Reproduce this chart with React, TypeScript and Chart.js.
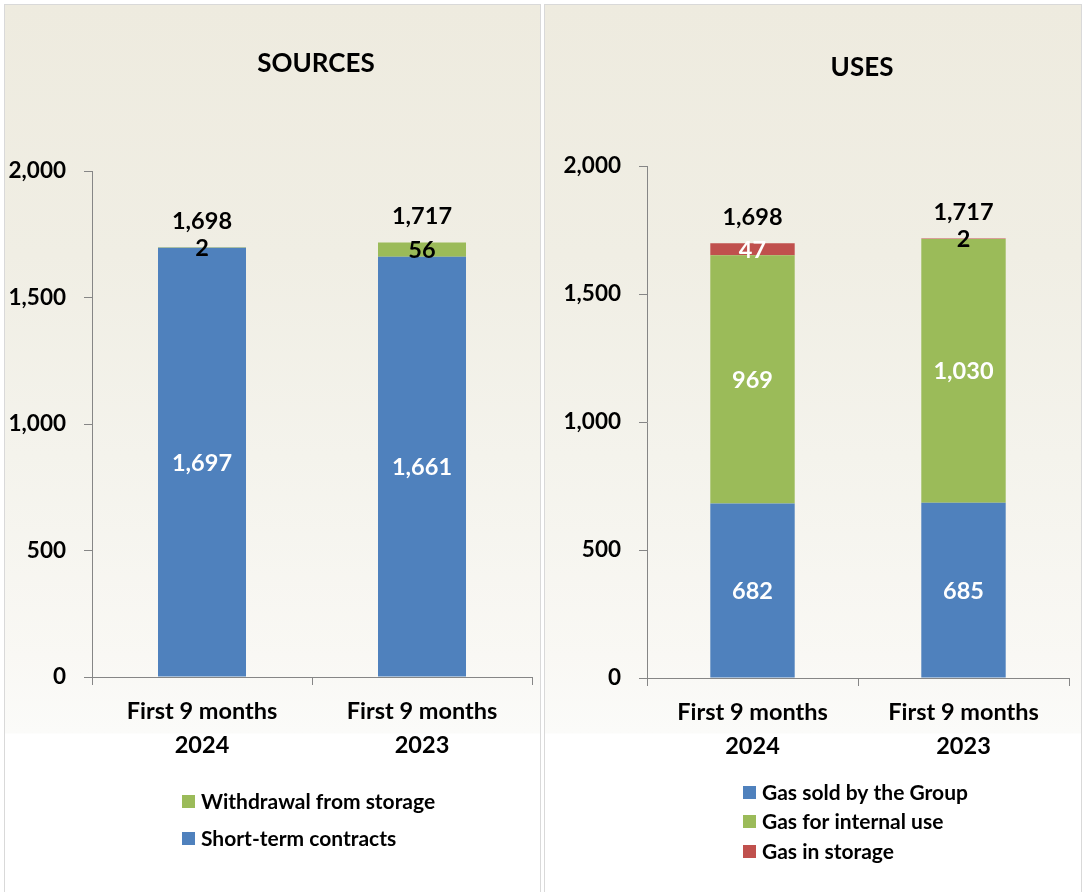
import React, { useEffect, useRef } from 'react';
import { Chart, registerables } from 'chart.js';

Chart.register(...registerables);

// ---- data ----
const categories = [['First 9 months', '2024'], ['First 9 months', '2023']];
const yTicks = [0, 500, 1000, 1500, 2000];

const sourcesShortTerm = [1697, 1661];
const sourcesWithdrawal = [2, 56];
const sourcesTotals = [1698, 1717];

const usesSold = [682, 685];
const usesInternal = [969, 1030];
const usesStorage = [47, 2];
const usesTotals = [1698, 1717];

// ---- styles ----
const BLUE = '#4F81BD';
const GREEN = '#9BBB59';
const RED = '#C0504D';
const AXIS = '#868686';
const FONT = 'Lato, "Open Sans", sans-serif';

const fmt = (v: number) => v.toLocaleString('en-US');

const annotatePlugin = {
  id: 'annotate',
  afterDatasetsDraw(chart: any, _args: any, opts: any) {
    const { ctx, chartArea } = chart;
    ctx.save();
    ctx.textAlign = 'center';
    ctx.textBaseline = 'middle';
    ctx.font = `bold 23.5px ${FONT}`;
    chart.data.datasets.forEach((ds: any, di: number) => {
      const meta = chart.getDatasetMeta(di);
      meta.data.forEach((bar: any, i: number) => {
        const { x, y, base } = bar.getProps(['x', 'y', 'base'], true);
        const c = opts.labelColors[di];
        ctx.fillStyle = Array.isArray(c) ? c[i] : c;
        ctx.fillText(fmt(ds.data[i]), x, (y + base) / 2 + 1);
      });
    });
    const last = chart.getDatasetMeta(chart.data.datasets.length - 1);
    last.data.forEach((bar: any, i: number) => {
      const { x, y } = bar.getProps(['x', 'y'], true);
      ctx.fillStyle = '#000000';
      ctx.fillText(fmt(opts.totals[i]), x, y - opts.totalOffset);
    });
    // title
    ctx.font = `bold 26px ${FONT}`;
    ctx.fillStyle = '#000000';
    ctx.fillText(opts.title, (chartArea.left + chartArea.right) / 2 + 4, opts.titleY);
    // legend
    ctx.font = `bold 21px ${FONT}`;
    ctx.textAlign = 'left';
    const order: number[] = opts.legendOrder;
    let maxW = 0;
    order.forEach((di) => {
      maxW = Math.max(maxW, ctx.measureText(chart.data.datasets[di].label).width);
    });
    const sq = 13;
    const gap = 6;
    const blockW = sq + gap + maxW;
    const cx = (chartArea.left + chartArea.right) / 2 - 3;
    const x0 = Math.round(cx - blockW / 2);
    order.forEach((di, k) => {
      const ds = chart.data.datasets[di];
      const yc = chartArea.bottom + opts.legendTop + k * opts.legendSpacing;
      ctx.fillStyle = ds.backgroundColor;
      ctx.fillRect(x0, Math.round(yc - sq / 2), sq, sq);
      ctx.fillStyle = '#000000';
      ctx.fillText(ds.label, x0 + sq + gap, yc + 1);
    });
    ctx.restore();
  },
};

function makeConfig(p: {
  datasets: any[];
  yWidth: number;
  padTop: number;
  padRight: number;
  padBottom: number;
  annotate: any;
}) {
  return {
    type: 'bar',
    data: { labels: categories, datasets: p.datasets },
    plugins: [annotatePlugin],
    options: {
      responsive: false,
      animation: false,
      layout: { padding: { top: p.padTop, right: p.padRight, bottom: p.padBottom, left: 0 } },
      plugins: {
        legend: { display: false },
        title: { display: false },
        tooltip: { enabled: false },
        annotate: p.annotate,
      },
      scales: {
        x: {
          stacked: true,
          offset: true,
          afterFit: (s: any) => {
            s.height = 90;
          },
          grid: {
            offset: true,
            drawOnChartArea: false,
            drawTicks: true,
            tickLength: 8,
            color: AXIS,
          },
          border: { display: true, color: AXIS, width: 1 },
          ticks: {
            color: '#000000',
            padding: 9,
            font: { family: FONT, size: 23.5, weight: 'bold', lineHeight: 1.45 },
          },
        },
        y: {
          stacked: true,
          min: 0,
          max: 2000,
          afterFit: (s: any) => {
            s.width = p.yWidth;
          },
          afterBuildTicks: (s: any) => {
            s.ticks = yTicks.map((v) => ({ value: v }));
          },
          grid: {
            drawOnChartArea: false,
            drawTicks: true,
            tickLength: 8,
            color: AXIS,
          },
          border: { display: true, color: AXIS, width: 1 },
          ticks: {
            color: '#000000',
            padding: 18,
            font: { family: FONT, size: 22.5, weight: 'bold' },
            callback: (v: any) => fmt(Number(v)),
          },
        },
      },
    },
  };
}

function ChartPanel({ config, width, height }: { config: any; width: number; height: number }) {
  const ref = useRef<HTMLCanvasElement | null>(null);
  useEffect(() => {
    if (!ref.current) return;
    const chart = new Chart(ref.current, config);
    return () => chart.destroy();
  }, [config]);
  return (
    <canvas
      ref={ref}
      width={width}
      height={height}
      style={{ position: 'absolute', left: 0, top: 0, width, height }}
    />
  );
}

const panelBg =
  'linear-gradient(to bottom, #EEEBDF 0px, #F0EEE4 250px, #F4F3EC 450px, #F9F8F4 650px, #FBFBF9 728px, #FFFFFF 729px, #FFFFFF 100%)';

const barStyle = { barPercentage: 0.8, categoryPercentage: 0.5, borderWidth: 0 };

const sourcesConfig = makeConfig({
  datasets: [
    { label: 'Short-term contracts', data: sourcesShortTerm, backgroundColor: BLUE, ...barStyle },
    { label: 'Withdrawal from storage', data: sourcesWithdrawal, backgroundColor: GREEN, ...barStyle },
  ],
  yWidth: 87,
  padTop: 166,
  padRight: 8,
  padBottom: 125,
  annotate: {
    labelColors: ['#FFFFFF', '#000000'],
    totals: sourcesTotals,
    totalOffset: 26,
    title: 'SOURCES',
    titleY: 59,
    legendOrder: [1, 0],
    legendTop: 124,
    legendSpacing: 37,
  },
});

const usesConfig = makeConfig({
  datasets: [
    { label: 'Gas sold by the Group', data: usesSold, backgroundColor: BLUE, ...barStyle },
    { label: 'Gas for internal use', data: usesInternal, backgroundColor: GREEN, ...barStyle },
    { label: 'Gas in storage', data: usesStorage, backgroundColor: RED, ...barStyle },
  ],
  yWidth: 102,
  padTop: 161,
  padRight: 12,
  padBottom: 124,
  annotate: {
    labelColors: ['#FFFFFF', '#FFFFFF', ['#FFFFFF', '#000000']],
    totals: usesTotals,
    totalOffset: 26,
    title: 'USES',
    titleY: 63,
    legendOrder: [0, 1, 2],
    legendTop: 114,
    legendSpacing: 29.5,
  },
});

export default function App() {
  const panel = (left: number, width: number): React.CSSProperties => ({
    position: 'absolute',
    left,
    top: 4,
    width,
    height: 900,
    boxSizing: 'border-box',
    border: '1px solid #D9D9D9',
    background: panelBg,
    overflow: 'hidden',
  });
  return (
    <div
      style={{
        position: 'absolute',
        left: 0,
        top: 0,
        width: 1084,
        height: 892,
        overflow: 'hidden',
        background: '#FFFFFF',
      }}
    >
      <div style={panel(4, 537)}>
        <ChartPanel config={sourcesConfig} width={535} height={887} />
      </div>
      <div style={panel(544, 538)}>
        <ChartPanel config={usesConfig} width={536} height={887} />
      </div>
    </div>
  );
}
